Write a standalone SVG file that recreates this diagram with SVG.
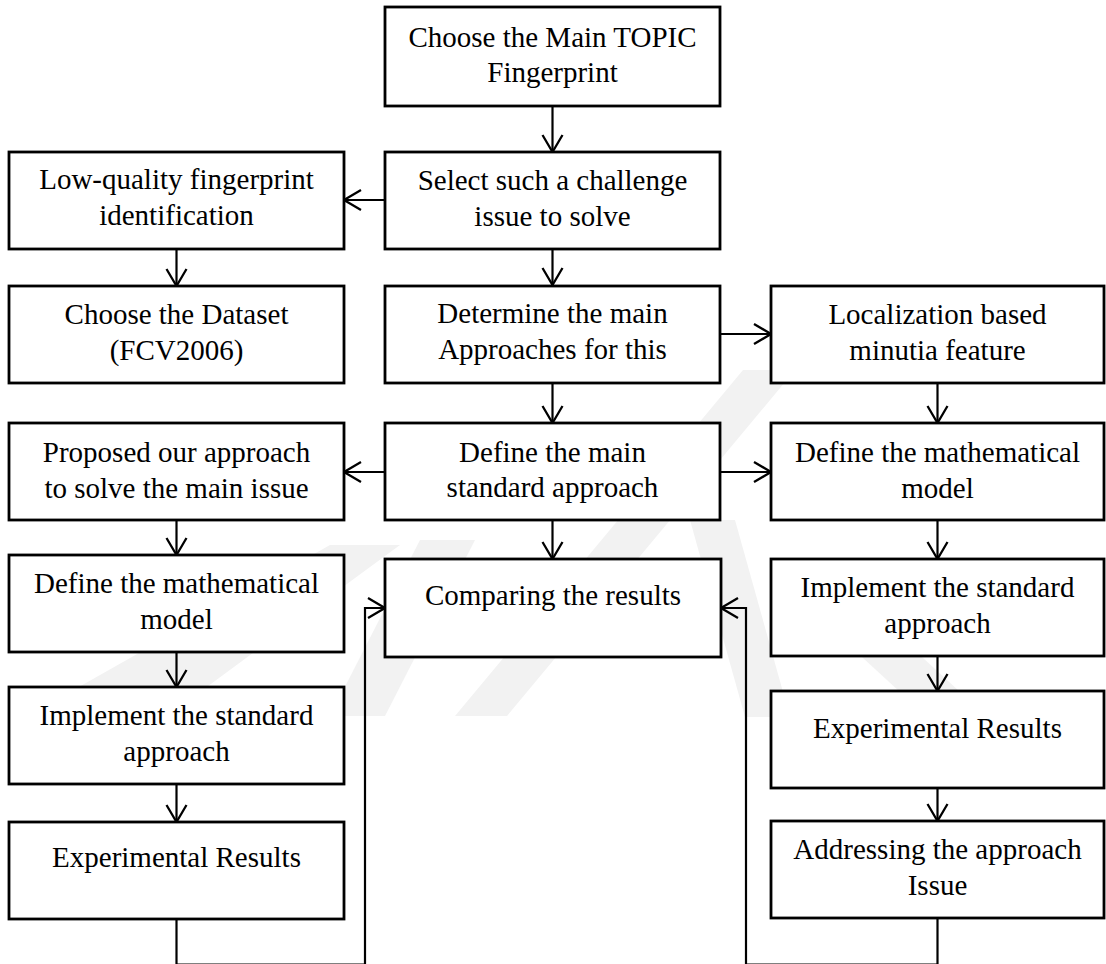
<svg xmlns="http://www.w3.org/2000/svg" width="1106" height="964" viewBox="0 0 1106 964">
  <defs>
    <style>
      .box { fill: #ffffff; stroke: #000000; stroke-width: 2.8; }
      .lbl { font-family: "Liberation Serif", "Times New Roman", serif; font-size: 29px; fill: #000000; text-anchor: middle; }
      .edge { fill: none; stroke: #000000; stroke-width: 2.2; }
      .wm { fill: #f2f2f2; stroke: none; }
    </style>
    <marker id="arrow" markerUnits="userSpaceOnUse" markerWidth="24" markerHeight="24" viewBox="-20 -12 24 24" refX="0" refY="0" orient="auto">
      <path d="M-17,-10 L0,0 L-17,10" fill="none" stroke="#000000" stroke-width="2.3"/>
    </marker>
  </defs>

  <rect width="1106" height="964" fill="#ffffff"/>

  <!-- faint background emblem -->
  <g id="watermark">
    <polygon class="wm" points="455,716 507,716 795,370 743,370"/>
    <polygon class="wm" points="690,520 735,520 790,717 745,717"/>
    <polygon class="wm" points="800,600 860,600 960,692 900,692"/>
    <polygon class="wm" points="330,716 385,716 475,540 420,540"/>
    <polygon class="wm" points="70,692 200,692 400,545 330,545"/>
  </g>

  <!-- connectors -->
  <g id="connectors">
    <line class="edge" x1="552.5" y1="106" x2="552.5" y2="152" marker-end="url(#arrow)"/>
    <line class="edge" x1="385" y1="200" x2="344" y2="200" marker-end="url(#arrow)"/>
    <line class="edge" x1="176.5" y1="249" x2="176.5" y2="286" marker-end="url(#arrow)"/>
    <line class="edge" x1="552.5" y1="249" x2="552.5" y2="285" marker-end="url(#arrow)"/>
    <line class="edge" x1="720" y1="334" x2="771" y2="334" marker-end="url(#arrow)"/>
    <line class="edge" x1="552.5" y1="383" x2="552.5" y2="423" marker-end="url(#arrow)"/>
    <line class="edge" x1="385" y1="472" x2="344" y2="472" marker-end="url(#arrow)"/>
    <line class="edge" x1="720" y1="472" x2="771" y2="472" marker-end="url(#arrow)"/>
    <line class="edge" x1="552.5" y1="520" x2="552.5" y2="559" marker-end="url(#arrow)"/>
    <line class="edge" x1="176.5" y1="520" x2="176.5" y2="555" marker-end="url(#arrow)"/>
    <line class="edge" x1="176.5" y1="652" x2="176.5" y2="687" marker-end="url(#arrow)"/>
    <line class="edge" x1="176.5" y1="784" x2="176.5" y2="822" marker-end="url(#arrow)"/>
    <path class="edge" d="M176.5,919 V964.6 H365 V608 H385" marker-end="url(#arrow)"/>
    <line class="edge" x1="937.5" y1="383" x2="937.5" y2="423" marker-end="url(#arrow)"/>
    <line class="edge" x1="937.5" y1="520" x2="937.5" y2="559" marker-end="url(#arrow)"/>
    <line class="edge" x1="937.5" y1="656" x2="937.5" y2="691" marker-end="url(#arrow)"/>
    <line class="edge" x1="937.5" y1="788" x2="937.5" y2="821" marker-end="url(#arrow)"/>
    <path class="edge" d="M937.5,918 V964.6 H746 V608 H721" marker-end="url(#arrow)"/>
  </g>

  <!-- centre column -->
  <g id="topic">
    <rect class="box" x="385" y="7" width="335" height="99"/>
    <text class="lbl" x="552.5" y="47">Choose the Main TOPIC</text>
    <text class="lbl" x="552.5" y="82">Fingerprint</text>
  </g>
  <g id="challenge">
    <rect class="box" x="385" y="152" width="335" height="97"/>
    <text class="lbl" x="552.5" y="190">Select such a challenge</text>
    <text class="lbl" x="552.5" y="226">issue to solve</text>
  </g>
  <g id="approaches">
    <rect class="box" x="385" y="286" width="335" height="97"/>
    <text class="lbl" x="552.5" y="323">Determine the main</text>
    <text class="lbl" x="552.5" y="359">Approaches for this</text>
  </g>
  <g id="standard">
    <rect class="box" x="385" y="423" width="335" height="97"/>
    <text class="lbl" x="552.5" y="462">Define the main</text>
    <text class="lbl" x="552.5" y="497">standard approach</text>
  </g>
  <g id="comparing">
    <rect class="box" x="385" y="559" width="336" height="98"/>
    <text class="lbl" x="553" y="605">Comparing the results</text>
  </g>

  <!-- left column -->
  <g id="lowquality">
    <rect class="box" x="9" y="152" width="335" height="97"/>
    <text class="lbl" x="176.5" y="189">Low-quality fingerprint</text>
    <text class="lbl" x="176.5" y="225">identification</text>
  </g>
  <g id="dataset">
    <rect class="box" x="9" y="286" width="335" height="97"/>
    <text class="lbl" x="176.5" y="324">Choose the Dataset</text>
    <text class="lbl" x="176.5" y="360">(FCV2006)</text>
  </g>
  <g id="proposed">
    <rect class="box" x="9" y="423" width="335" height="97"/>
    <text class="lbl" x="176.5" y="462">Proposed our approach</text>
    <text class="lbl" x="176.5" y="498">to solve the main issue</text>
  </g>
  <g id="model-left">
    <rect class="box" x="9" y="555" width="335" height="97"/>
    <text class="lbl" x="176.5" y="593">Define the mathematical</text>
    <text class="lbl" x="176.5" y="629">model</text>
  </g>
  <g id="implement-left">
    <rect class="box" x="9" y="687" width="335" height="97"/>
    <text class="lbl" x="176.5" y="725">Implement the standard</text>
    <text class="lbl" x="176.5" y="761">approach</text>
  </g>
  <g id="results-left">
    <rect class="box" x="9" y="822" width="335" height="97"/>
    <text class="lbl" x="176.5" y="867">Experimental Results</text>
  </g>

  <!-- right column -->
  <g id="localization">
    <rect class="box" x="771" y="286" width="333" height="97"/>
    <text class="lbl" x="937.5" y="324">Localization based</text>
    <text class="lbl" x="937.5" y="360">minutia feature</text>
  </g>
  <g id="model-right">
    <rect class="box" x="771" y="423" width="333" height="97"/>
    <text class="lbl" x="937.5" y="462">Define the mathematical</text>
    <text class="lbl" x="937.5" y="498">model</text>
  </g>
  <g id="implement-right">
    <rect class="box" x="771" y="559" width="333" height="97"/>
    <text class="lbl" x="937.5" y="597">Implement the standard</text>
    <text class="lbl" x="937.5" y="633">approach</text>
  </g>
  <g id="results-right">
    <rect class="box" x="771" y="691" width="333" height="97"/>
    <text class="lbl" x="937.5" y="738">Experimental Results</text>
  </g>
  <g id="addressing">
    <rect class="box" x="771" y="821" width="333" height="97"/>
    <text class="lbl" x="937.5" y="859">Addressing the approach</text>
    <text class="lbl" x="937.5" y="895">Issue</text>
  </g>
</svg>
